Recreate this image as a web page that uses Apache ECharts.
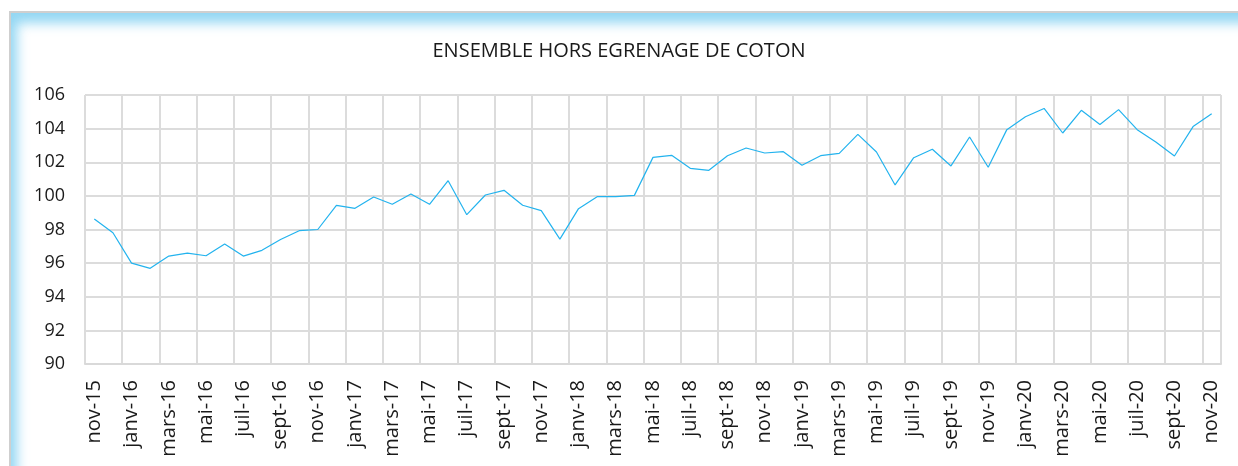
<!DOCTYPE html>
<html>
<head>
<meta charset="utf-8">
<script src="https://cdn.jsdelivr.net/npm/echarts@6/dist/echarts.min.js"></script>
<style>
html,body{margin:0;padding:0;background:#fff;overflow:hidden;}
#frame{position:absolute;left:9px;top:11px;width:1240px;height:470px;border:2px solid #cfcfcf;
  box-shadow: inset 10px 14px 12px -4px rgba(120,205,240,0.8);}
#chart{position:absolute;left:0;top:0;width:1238px;height:466px;}
</style>
</head>
<body>
<div id="frame"></div>
<div id="chart"></div>
<script>
const title = 'ENSEMBLE HORS EGRENAGE DE COTON';
const categories = [
 'nov-15','déc-15',
 'janv-16','févr-16','mars-16','avr-16','mai-16','juin-16','juil-16','août-16','sept-16','oct-16','nov-16','déc-16',
 'janv-17','févr-17','mars-17','avr-17','mai-17','juin-17','juil-17','août-17','sept-17','oct-17','nov-17','déc-17',
 'janv-18','févr-18','mars-18','avr-18','mai-18','juin-18','juil-18','août-18','sept-18','oct-18','nov-18','déc-18',
 'janv-19','févr-19','mars-19','avr-19','mai-19','juin-19','juil-19','août-19','sept-19','oct-19','nov-19','déc-19',
 'janv-20','févr-20','mars-20','avr-20','mai-20','juin-20','juil-20','août-20','sept-20','oct-20','nov-20'
];
const values = [
 98.62, 97.81,
 96.0, 95.69, 96.42, 96.6, 96.44, 97.14, 96.42, 96.76, 97.41, 97.93, 98.0, 99.44,
 99.26, 99.93, 99.5, 100.11, 99.5, 100.9, 98.88, 100.05, 100.33, 99.44, 99.12, 97.43,
 99.24, 99.95, 99.95, 100.03, 102.29, 102.41, 101.64, 101.52, 102.39, 102.85, 102.55, 102.63,
 101.82, 102.39, 102.53, 103.66, 102.61, 100.65, 102.27, 102.77, 101.78, 103.5, 101.7, 103.94,
 104.71, 105.2, 103.74, 105.09, 104.25, 105.13, 103.94, 103.2, 102.37, 104.12, 104.89
];
const yMin = 90, yMax = 106, yStep = 2;

const chart = echarts.init(document.getElementById('chart'), null, {renderer:'canvas'});
chart.setOption({
  backgroundColor: 'transparent',
  animation: false,
  title: {
    text: title, left: 'center', top: 36,
    textStyle: {fontFamily: 'Open Sans', fontSize: 20, fontWeight: 'normal', color: '#1a1a1a'}
  },
  grid: {left: 85, right: 17, top: 95, bottom: 102},
  xAxis: {
    type: 'category', data: categories, boundaryGap: true,
    axisLine: {show: true, lineStyle: {color: '#d9d9d9', width: 2}},
    axisTick: {show: false, interval: 1},
    axisLabel: {interval: 1, rotate: 90, margin: 16, fontFamily: 'Open Sans', fontSize: 20, color: '#1a1a1a'},
    splitLine: {show: true, interval: 1, lineStyle: {color: '#dcdcdc', width: 2}}
  },
  yAxis: {
    type: 'value', min: yMin, max: yMax, interval: yStep,
    axisLine: {show: false}, axisTick: {show: false},
    axisLabel: {margin: 20, fontFamily: 'Open Sans', fontSize: 18, color: '#1a1a1a'},
    splitLine: {show: true, lineStyle: {color: '#dcdcdc', width: 2}}
  },
  series: [{
    type: 'line', data: values, showSymbol: false, symbol: 'none',
    lineStyle: {color: '#23b3ee', width: 1.2}, itemStyle: {color: '#23b3ee'}
  }]
});
</script>
</body>
</html>
